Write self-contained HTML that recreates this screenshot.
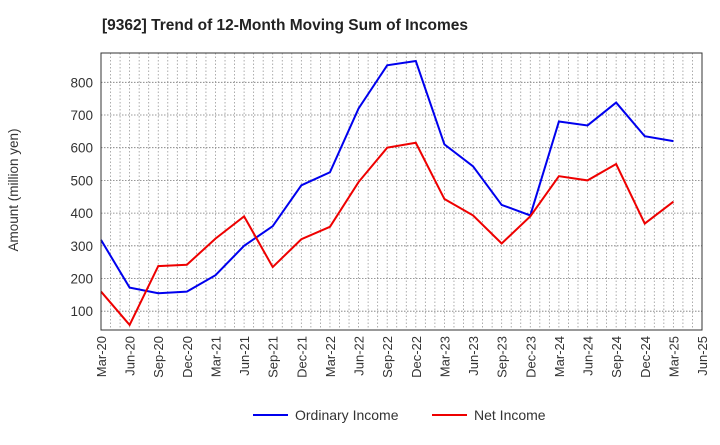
<!DOCTYPE html>
<html><head><meta charset="utf-8"><style>
body{margin:0;background:#fff;font-family:"Liberation Sans",sans-serif;}
</style></head><body>
<svg width="720" height="440" xmlns="http://www.w3.org/2000/svg" font-family="Liberation Sans, sans-serif">
<text x="102" y="30" font-size="15.5" font-weight="bold" fill="#222">[9362]  Trend of 12-Month Moving Sum of Incomes</text>
<g id="grid"></g>
<g id="yt"></g>
<g id="xt"></g>
<g id="lines"></g>
<rect x="101" y="53" width="601" height="277" fill="none" stroke="#333" stroke-width="1"/>
<text transform="translate(18,190) rotate(-90)" text-anchor="middle" font-size="13.5" fill="#333">Amount (million yen)</text>
<g>
<line x1="253" y1="415" x2="288" y2="415" stroke="#0000ee" stroke-width="2"/>
<text x="295" y="420" font-size="14" fill="#333">Ordinary Income</text>
<line x1="432" y1="415" x2="467" y2="415" stroke="#ee0000" stroke-width="2"/>
<text x="474" y="420" font-size="14" fill="#333">Net Income</text>
</g>
</svg>
<script>
const categories=["Mar-20","Jun-20","Sep-20","Dec-20","Mar-21","Jun-21","Sep-21","Dec-21","Mar-22","Jun-22","Sep-22","Dec-22","Mar-23","Jun-23","Sep-23","Dec-23","Mar-24","Jun-24","Sep-24","Dec-24","Mar-25","Jun-25"];
const ordinaryIncome=[318,172,155,160,210,300,360,485,525,720,852,865,610,543,425,393,680,668,738,635,620];
const netIncome=[160,58,238,242,322,390,235,320,358,495,600,615,443,393,307,390,513,500,550,368,435];
const yTicks=[100,200,300,400,500,600,700,800];
const NS="http://www.w3.org/2000/svg";
const L=101,R=702,T=53,B=330;
function xs(i){return L+i*(R-L)/(categories.length-1);}
function ys(v){return 82.3+(800-v)*0.327;}
function mk(t,a,p){const e=document.createElementNS(NS,t);for(const k in a)e.setAttribute(k,a[k]);p.appendChild(e);return e;}
const g=document.getElementById('grid');
for(let m=1;m<(categories.length-1)*3;m++){const x=L+m*(R-L)/((categories.length-1)*3);
const l=mk('line',{x1:x,x2:x,y1:T,y2:B,stroke:'#999','stroke-width':0.8,'stroke-dasharray':'1.5,2'},g);

}
const yt=document.getElementById('yt');
yTicks.forEach(v=>{const y=ys(v);
const l=mk('line',{x1:L,x2:R,y1:y,y2:y,stroke:'#777','stroke-width':0.8,'stroke-dasharray':'1.5,1.5'},g);


const t=mk('text',{x:L-8,y:y+5,'text-anchor':'end','font-size':13.5,fill:'#333'},yt);t.textContent=v;

});
const xt=document.getElementById('xt');
categories.forEach((c,i)=>{const x=xs(i);
const t=mk('text',{transform:`translate(${x+5},${B+6}) rotate(-90)`,'text-anchor':'end','font-size':13,fill:'#333'},xt);t.textContent=c;

});
const lg=document.getElementById('lines');
function line(d,col,name){const p=mk('polyline',{points:d.map((v,i)=>xs(i)+','+ys(v)).join(' '),fill:'none',stroke:col,'stroke-width':2},lg);

}
line(ordinaryIncome,'#0000ee','ordinary-income-line');
line(netIncome,'#ee0000','net-income-line');
</script>
</body></html>
